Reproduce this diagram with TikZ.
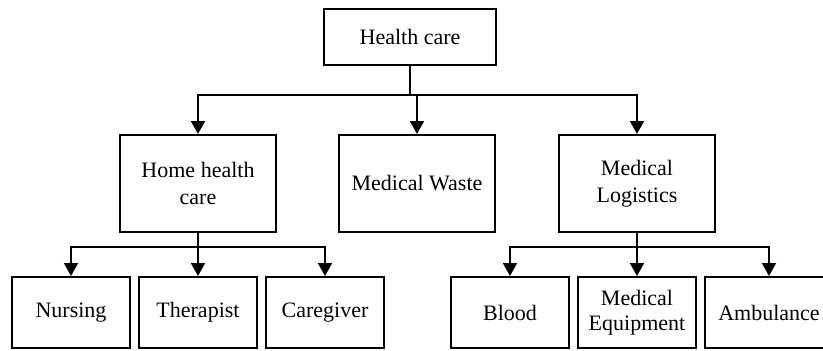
\documentclass[tikz,border=0pt]{standalone}
\usepackage{fontspec}
\setmainfont{Liberation Serif}
\usetikzlibrary{arrows.meta}
\begin{document}
\begin{tikzpicture}[x=1pt,y=-1pt,
  box/.style={draw=black,line width=2pt,inner sep=0pt,align=center,
    font=\fontsize{22}{27}\selectfont},
  arr/.style={line width=2pt,-{Triangle[length=13pt,width=14pt]}},
  ln/.style={line width=2pt}]
\clip (0,0) rectangle (823,351);
\useasboundingbox (0,0) rectangle (823,351);
\fill[white] (0,0) rectangle (823,351);
% level 0
\node[box,minimum width=172pt,minimum height=56pt] (hc) at (410,37) {Health care};
% level 1
\node[box,minimum width=156pt,minimum height=97pt] (hhc) at (198,183.5) {Home health\\care};
\node[box,minimum width=156pt,minimum height=97pt] (mw) at (417,183.5) {Medical Waste};
\node[box,minimum width=156pt,minimum height=97pt] (ml) at (637,183.5) {Medical\\Logistics};
% level 2
\node[box,minimum width=118pt,minimum height=71pt] (nu) at (71,312.5) {Nursing};
\node[box,minimum width=118pt,minimum height=71pt] (th) at (198,312.5) {Therapist};
\node[box,minimum width=118pt,minimum height=71pt] (cg) at (325,312.5) {Caregiver};
\node[box,minimum width=118pt,minimum height=71pt] (bl) at (510,312.5) {Blood};
\node[box,minimum width=118pt,minimum height=71pt,font=\fontsize{22}{25}\selectfont] (me) at (637,312.5) {Medical\\Equipment};
\node[box,minimum width=128pt,minimum height=71pt] (am) at (769,312.5) {Ambulance};
% junctions
\coordinate (j0) at (hc.south |- 0,95);
\coordinate (j1) at (hhc.south |- 0,247);
\coordinate (j2) at (ml.south |- 0,247);
% connectors
\draw[ln] (hc.south) -- (j0);
\draw[arr] (j0) -| (hhc.north);
\draw[arr] (j0) -| (ml.north);
\draw[arr] (mw.north |- j0) -- (mw.north);
\draw[ln] (hhc.south) -- (j1);
\draw[arr] (j1) -| (nu.north);
\draw[arr] (j1) -| (cg.north);
\draw[arr] (j1) -- (th.north);
\draw[ln] (ml.south) -- (j2);
\draw[arr] (j2) -| (bl.north);
\draw[arr] (j2) -| (am.north);
\draw[arr] (j2) -- (me.north);
\end{tikzpicture}
\end{document}
